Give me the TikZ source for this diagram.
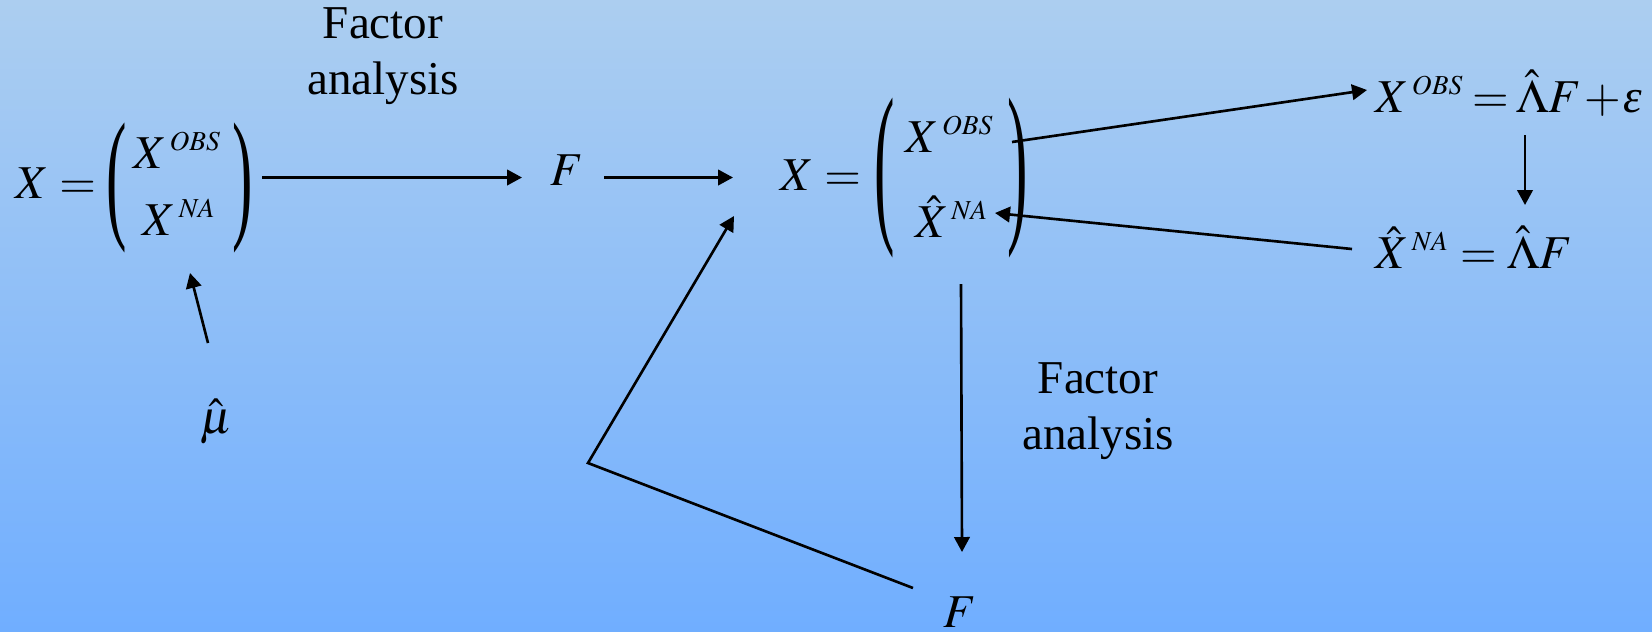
\documentclass[tikz,border=0pt]{standalone}
\usepackage{amsmath}
\usepackage{graphicx}
\usepackage{mathptmx}
\usepackage[no-math]{fontspec}
\setmainfont{Liberation Serif}
\DeclareMathSizes{13.4}{13.4}{7.8}{6}
\usetikzlibrary{arrows.meta,calc}
\definecolor{bgtop}{RGB}{172,206,240}
\definecolor{bgmid}{RGB}{128,190,255}
\definecolor{bgbot}{RGB}{112,174,255}
% a tall parenthesis: #1 the glyph, #2 its vertical stretch
\newcommand{\tallpar}[2]{\scalebox{1.3}[#2]{#1}}
\tikzset{
  eq/.style={inner sep=0pt,anchor=base west,font=\fontsize{13.4}{16}\selectfont},
  row/.style={inner sep=0pt,anchor=base,font=\fontsize{13.4}{16}\selectfont},
  par/.style={inner sep=0pt,font=\fontsize{13.4}{16}\selectfont},
  lab/.style={inner sep=0pt,align=center,font=\fontsize{13.4}{15.9}\selectfont},
  arr/.style={->,line width=0.75pt}
}

\begin{document}
\begin{tikzpicture}[>={Triangle[length=0.15cm,width=0.155cm]}]
 \useasboundingbox (0,0) rectangle (16.52,6.31);
 \shade[top color=bgtop,middle color=bgmid,bottom color=bgbot] (0,0) rectangle (16.52,6.31);
 % first pass: fill the gaps with the mean
 \node[eq] (lx) at (0.15,4.33) {$X =$};
 \node[par] (lpl) at (1.17,4.435) {\tallpar{(}{3.05}};
 \node[par] (lpr) at (2.425,4.435) {\tallpar{)}{3.05}};
 \node[row] (lr1) at (1.775,4.63) {$X^{\,OBS}$};
 \node[row] (lr2) at (1.795,3.96) {$X^{\,NA}$};
 \node[eq] (mu) at (2.00,1.98) {$\hat{\mu}$};
 \node[lab] (fa1) at (3.83,5.75) {Factor\\analysis};
 \node[eq] (F1) at (5.50,4.46) {$F$};
 % second pass: re-estimate the missing part
 \node[eq] (mx) at (7.80,4.41) {$X =$};
 \node[par] (mpl) at (8.85,4.525) {\tallpar{(}{3.75}};
 \node[par] (mpr) at (10.18,4.525) {\tallpar{)}{3.75}};
 \node[row] (mr1) at (9.50,4.79) {$X^{\,OBS}$};
 \node[row] (mr2) at (9.52,3.94) {$\hat{X}^{\,NA}$};
 \node[eq] (eq1) at (13.75,5.19) {$\thickmuskip=3mu \medmuskip=1mu X^{\,OBS} = \hat{\Lambda}F + \text{\itshape ε}$};
 \node[eq] (eq2) at (13.75,3.63) {$\thickmuskip=4mu \hat{X}^{\,NA} = \hat{\Lambda}F$};
 \node[lab] (fa2) at (10.98,2.195) {Factor\\analysis};
 \node[eq] (F2) at (9.43,0.04) {$F$};
 \coordinate (bend) at (5.88,1.68);
 % connectors
 \draw[arr] ($(lpr.center)+(0.195,0.10)$) -- ($(F1.base west)+(-0.28,0.075)$);
 \draw[arr] ($(mu.base west)+(0.08,0.90)$) -- ($(lr2.base)+(0.105,-0.38)$);
 \draw[arr] ($(F1.base west)+(0.54,0.075)$) -- ($(mx.base west)+(-0.47,0.125)$);
 \draw[arr] ($(mr1.base)+(0.62,0.10)$) -- ($(eq1.base west)+(-0.08,0.22)$);
 \draw[arr] ($(eq2.base west)+(-0.23,0.19)$) -- ($(mr2.base)+(0.43,0.24)$);
 \draw[arr] ($(eq1.base west)+(1.50,-0.23)$) -- ($(eq2.base west)+(1.50,0.63)$);
 \draw[arr] ($(mr2.base)+(0.09,-0.47)$) -- ($(F2.base west)+(0.19,0.75)$);
 \draw[arr] ($(F2.base west)+(-0.30,0.39)$) -- (bend) -- ($(mx.base west)+(-0.46,-0.26)$);
\end{tikzpicture}
\end{document}
